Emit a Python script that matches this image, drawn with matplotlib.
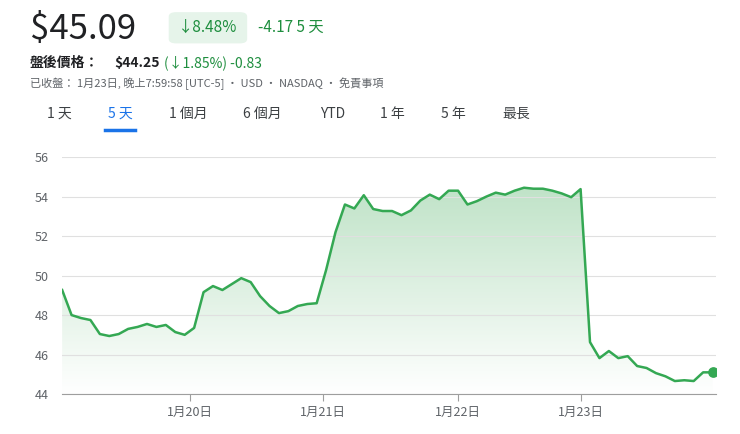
import matplotlib.pyplot as plt
import numpy as np
from matplotlib.patches import FancyBboxPatch
from matplotlib.colors import LinearSegmentedColormap

plt.rcParams['font.family'] = ['Noto Sans CJK TC', 'DejaVu Sans']

prices = [49.27, 48.0, 47.85, 47.75, 47.04, 46.94, 47.04, 47.3, 47.4, 47.55,
          47.4, 47.5, 47.14, 47.0, 47.35, 49.16, 49.47, 49.27, 49.57, 49.87,
          49.67, 48.96, 48.46, 48.1, 48.2, 48.46, 48.56, 48.6, 50.28, 52.2,
          53.6, 53.4, 54.07, 53.37, 53.27, 53.27, 53.06, 53.3, 53.8, 54.1,
          53.87, 54.3, 54.3, 53.6, 53.77, 54.0, 54.2, 54.1, 54.3, 54.45,
          54.4, 54.4, 54.3, 54.16, 53.97, 54.38, 46.63, 45.82, 46.18, 45.82,
          45.92, 45.42, 45.32, 45.06, 44.9, 44.66, 44.7, 44.66, 45.1, 45.1]
day_labels = ['1月20日', '1月21日', '1月22日', '1月23日']
day_pos = [13.6, 27.7, 42.0, 55.0]
y_ticks = [44, 46, 48, 50, 52, 54, 56]

green = '#1e8e3e'
line_green = '#34a853'

fig = plt.figure(figsize=(7.4, 4.34), dpi=100)
ax = fig.add_axes([0.084, 0.092, 0.884, 0.546])
x = np.arange(len(prices))
ax.plot(x, prices, color=line_green, lw=1.8, zorder=3)
ax.scatter([x[-1]], [prices[-1]], s=45, color=line_green, zorder=4)
poly = ax.fill_between(x, prices, 44, color='none')
grad = np.linspace(0, 1, 256).reshape(-1, 1)
cmap = LinearSegmentedColormap.from_list('g', ['#ffffff', '#b7dfc0'])
im = ax.imshow(grad, cmap=cmap, aspect='auto', origin='lower',
               extent=[x[0], x[-1], 44, 56], zorder=1)
im.set_clip_path(poly.get_paths()[0], transform=ax.transData)
ax.set_xlim(x[0], x[-1] + 0.4)
ax.set_ylim(44, 56)
ax.set_yticks(y_ticks)
ax.set_xticks(day_pos)
ax.set_xticklabels(day_labels)
ax.grid(axis='y', color='#e0e0e0', lw=0.8, zorder=0)
for s in ['top', 'right', 'left']:
    ax.spines[s].set_visible(False)
ax.spines['bottom'].set_color('#9e9e9e')
ax.tick_params(axis='y', length=0, labelsize=9, colors='#5f6368', pad=10)
ax.tick_params(axis='x', length=5, color='#9e9e9e', labelsize=9, colors='#5f6368')

# header
fig.text(0.04, 0.932, '$45.09', fontsize=25, color='#202124', va='center')
badge = FancyBboxPatch((0.228, 0.9), 0.106, 0.072, boxstyle='round,pad=0,rounding_size=0.01',
                       transform=fig.transFigure, fc='#e6f4ea', ec='none')
fig.patches.append(badge)
fig.text(0.281, 0.936, '↓8.48%', fontsize=11, color=green, ha='center', va='center')
fig.text(0.348, 0.936, '-4.17 5 天', fontsize=11, color=green, va='center')
fig.text(0.04, 0.855, '盤後價格：', fontsize=10, color='#202124', weight='bold', va='center')
fig.text(0.155, 0.855, '$44.25', fontsize=10, color='#202124', weight='bold', va='center')
fig.text(0.222, 0.855, '(↓1.85%) -0.83', fontsize=10, color=green, va='center')
fig.text(0.04, 0.806, '已收盤： 1月23日, 晚上7:59:58 [UTC-5] · USD · NASDAQ · 免責事項',
         fontsize=8, color='#5f6368', va='center')
tabs = ['1 天', '5 天', '1 個月', '6 個月', 'YTD', '1 年', '5 年', '最長']
tab_x = [0.08, 0.162, 0.254, 0.355, 0.449, 0.53, 0.613, 0.698]
for t, tx in zip(tabs, tab_x):
    fig.text(tx, 0.738, t, fontsize=10, ha='center', va='center',
             color='#1a73e8' if t == '5 天' else '#3c4043')
fig.add_artist(plt.Line2D([0.142, 0.182], [0.7, 0.7], color='#1a73e8', lw=2.5))

fig.savefig('out.png', dpi=100)
